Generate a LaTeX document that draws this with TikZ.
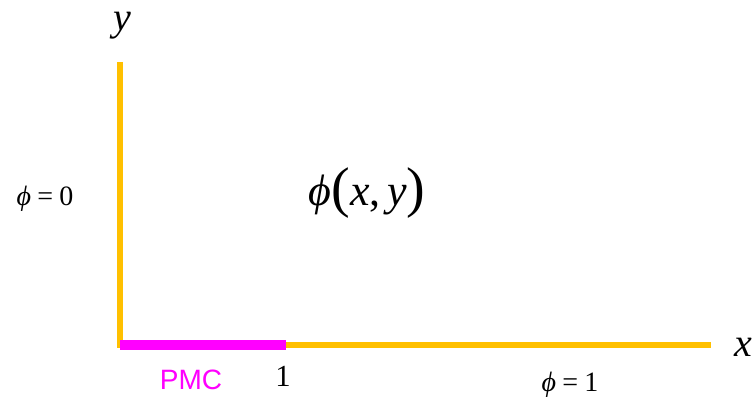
\documentclass[tikz,border=0pt]{standalone}
\usepackage{fontspec}
\setmainfont{Liberation Serif}
\newfontfamily\pmcfont{Liberation Sans}
\definecolor{wallgold}{RGB}{255,192,0}
\definecolor{pmcpink}{RGB}{255,0,255}
\newcommand{\bigpar}[1]{{\fontsize{42}{42}\selectfont\raisebox{-1pt}{#1}}}
\newcommand{\eqsp}{\hspace{0.22em}=\hspace{0.22em}}
\begin{document}
\begin{tikzpicture}[
    x=0.75pt, y=-0.75pt,
    wall/.style={draw=wallgold, line width=3.8pt},
    pmcline/.style={draw=pmcpink, line width=7.5pt},
    every node/.style={inner sep=0pt},
    axislbl/.style={font=\fontsize{30}{34}\selectfont\itshape},
    bclbl/.style={font=\fontsize{21}{24}\selectfont}
]
  \useasboundingbox (0,0) rectangle (756,398);
  % boundary of the region
  \coordinate (origin) at (120,345);
  \coordinate (ytop) at (120,62);
  \coordinate (xend) at (711,345);
  \coordinate (pmcend) at (286,345);

  \draw[wall] (ytop) -- (origin) -- (xend);
  \draw[pmcline] (origin) -- (pmcend);

  % axis names and labels
  \node[axislbl] (ylbl) at (122,26) {y};
  \node[axislbl] (xlbl) at (743,347) {x};
  \node[font=\fontsize{33}{38}\selectfont] (field) at (367,193)
    {\textit{ϕ}\bigpar{(}\textit{x},\hspace{0.15em}\textit{y}\bigpar{)}};
  \node[bclbl] (left) at (45,199) {\textit{ϕ}\eqsp0};
  \node[bclbl] (bottom) at (570,385) {\textit{ϕ}\eqsp1};
  \node[font=\fontsize{23}{26}\selectfont] (one) at (283,376) {1};
  \node[font=\fontsize{21}{24}\pmcfont, text=pmcpink] (pmc) at (191,380) {PMC};
\end{tikzpicture}
\end{document}
